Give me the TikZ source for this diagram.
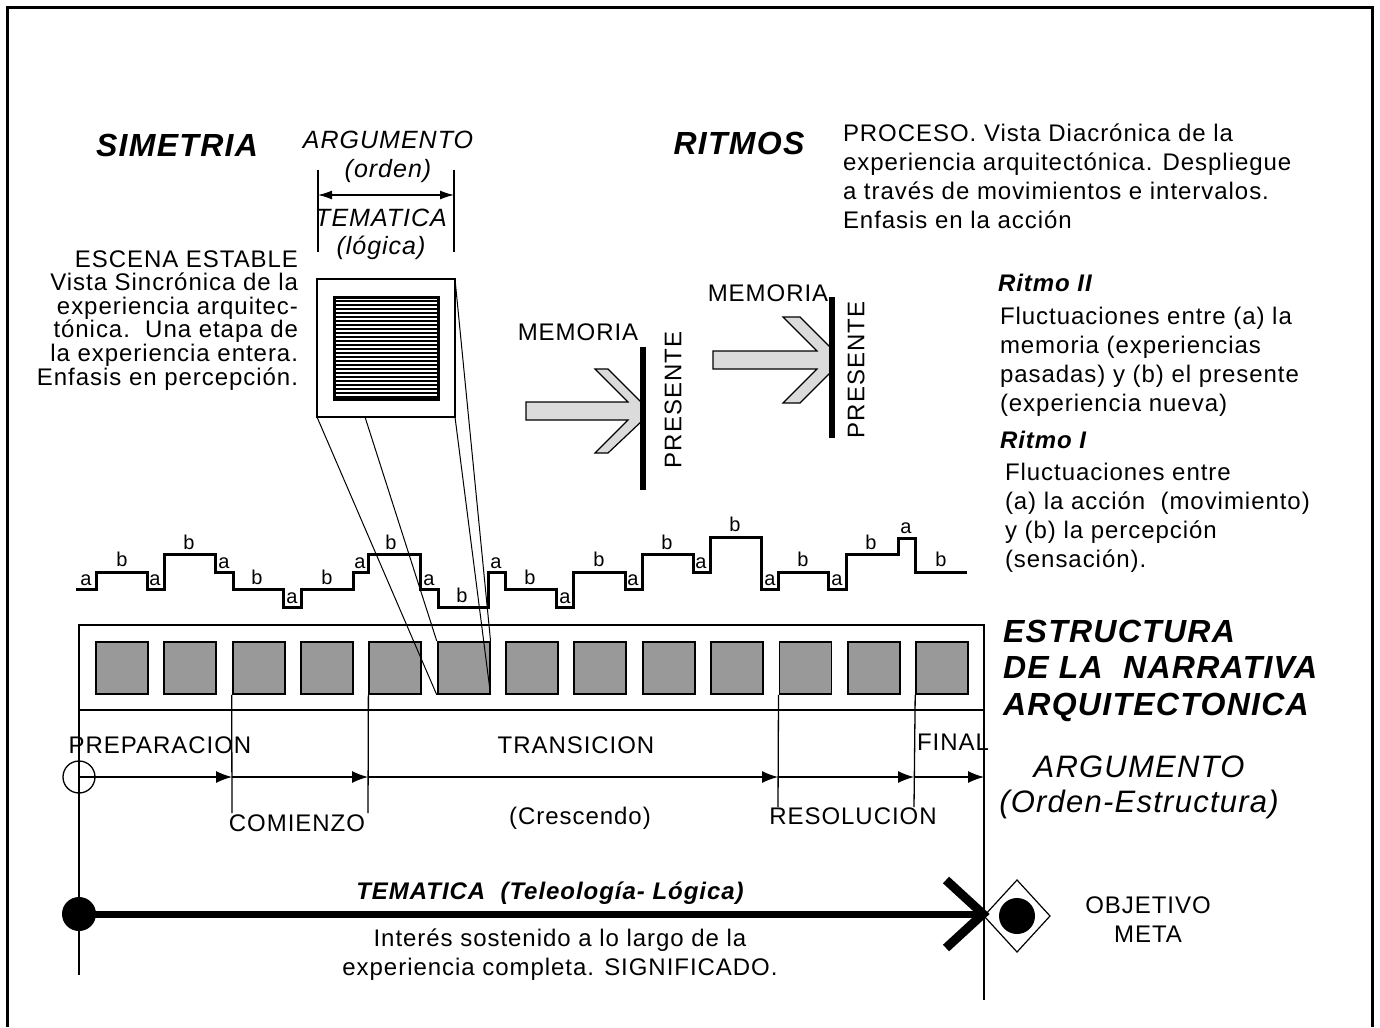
\documentclass[tikz,border=0pt]{standalone}
\usepackage{fontspec}
\setmainfont{Liberation Sans}[LetterSpace=4]
\usetikzlibrary{arrows.meta}
\newcommand\dgbody{\fontsize{24}{29}\selectfont}
\newcommand\dgleft{\fontsize{24}{23.6}\selectfont}
\newcommand\dgtitle{\fontsize{32}{36.5}\selectfont\bfseries\itshape}
\newcommand\dgsub{\fontsize{24}{29}\selectfont\bfseries\itshape}
\newcommand\dgit{\fontsize{25}{28.5}\selectfont\itshape}
\newcommand\dgitbig{\fontsize{31}{35}\selectfont\itshape}
\newcommand\dglab{\fontsize{20}{20}\selectfont}
\tikzset{
  txt/.style={inner sep=0pt, outer sep=0pt},
  stair/.style={line width=3pt, line join=miter},
  thinl/.style={line width=1.3pt},
  scenebox/.style={draw, line width=1.8pt, fill=black!40, inner sep=0pt, minimum width=52pt, minimum height=52pt, anchor=north west},
  memarrow/.style={draw, line width=1.2pt, fill=black!14, line join=miter},
  presbar/.style={line width=6pt},
  tickarrow/.style={-{Latex[length=16pt,width=12pt]}, line width=1.3pt},
  dimarrow/.style={{Latex[length=14pt,width=9pt]}-{Latex[length=14pt,width=9pt]}, line width=1.3pt},
  lab/.style={txt, font=\dglab},
}
\begin{document}
\begin{tikzpicture}[x=1pt,y=-1pt]
\useasboundingbox (0,0) rectangle (1380,1027);
\fill[white] (0,0) rectangle (1380,1027);
% frame
\draw[line width=3pt] (7,1027) -- (7,8) -- (1372,8) -- (1372,1027);

% titles
\node[txt, font=\dgtitle] (simetria) at (177,145) {SIMETRIA};
\node[txt, font=\dgtitle] (ritmos) at (739,143) {RITMOS};

% dimension (argumento / tematica)
\node[txt, font=\dgit, align=center, anchor=base] (argu) at (388,177.5) {ARGUMENTO\\(orden)};
\node[txt, font=\dgit, align=center, anchor=base] (tema) at (381,254.5) {TEMATICA\\(lógica)};
\coordinate (dl1) at (318,170); \coordinate (dl2) at (318,252);
\coordinate (dr1) at (454,170); \coordinate (dr2) at (454,252);
\coordinate (da) at (318,195); \coordinate (db) at (454,195);
\draw[thinl] (dl1) -- (dl2);
\draw[thinl] (dr1) -- (dr2);
\draw[dimarrow] (da) -- (db);

% left text
\node[txt, font=\dgleft, align=right, anchor=base east] (escena) at (298,385)
 {ESCENA ESTABLE\\Vista Sincrónica de la\\experiencia arquitec-\\tónica.\ \ Una etapa de\\la experiencia entera.\\Enfasis en percepción.};

% detail square
\coordinate (sqTL) at (317,279); \coordinate (sqTR) at (455,279);
\coordinate (sqBL) at (317,417); \coordinate (sqBR) at (455,417);
\coordinate (sqBM) at (365,417);
\draw[thinl] (sqTL) rectangle (sqBR);
\foreach \yy in {301,305,...,397} \draw[line width=1.6pt] (334,\yy) -- (438,\yy);
\draw[line width=3pt] (334,297) rectangle (438,399);

% right text
\node[txt, font=\dgbody, align=left, anchor=base west] (proceso) at (843,228)
 {PROCESO. Vista Diacrónica de la\\experiencia arquitectónica. Despliegue\\a través de movimientos e intervalos.\\Enfasis en la acción};
\node[txt, font=\dgsub, anchor=base west] (r2) at (998,291) {Ritmo II};
\node[txt, font=\dgbody, align=left, anchor=base west] (r2t) at (1000,411)
 {Fluctuaciones entre (a) la\\memoria (experiencias\\pasadas) y (b) el presente\\(experiencia nueva)};
\node[txt, font=\dgsub, anchor=base west] (r1) at (1000,448) {Ritmo I};
\node[txt, font=\dgbody, align=left, anchor=base west] (r1t) at (1005,567)
 {Fluctuaciones entre\\(a) la acción\ \ (movimiento)\\y (b) la percepción\\(sensación).};

% memory arrows
\draw[memarrow] (526,402) -- (628,402) -- (595,369) -- (608,369) -- (643,404) -- (643,420) -- (608,453) -- (595,453) -- (628,420) -- (526,420) -- cycle;
\coordinate (p1a) at (643,347); \coordinate (p1b) at (643,490);
\draw[presbar] (p1a) -- (p1b);
\node[txt, font=\dgbody] (mem1) at (578,332) {MEMORIA};
\node[txt, font=\dgbody, rotate=90] (pres1) at (673,400) {PRESENTE};

\draw[memarrow] (713,351) -- (817,351) -- (783,317) -- (800,317) -- (832,349) -- (832,371) -- (800,403) -- (783,403) -- (817,369) -- (713,369) -- cycle;
\coordinate (p2a) at (832,297); \coordinate (p2b) at (832,438);
\draw[presbar] (p2a) -- (p2b);
\node[txt, font=\dgbody] (mem2) at (768,293) {MEMORIA};
\node[txt, font=\dgbody, rotate=90] (pres2) at (856,370) {PRESENTE};

% stair line
\draw[stair] (76,589) -- (96,589) -- (96,572) -- (147,572) -- (147,589) -- (164,589) -- (164,554) -- (215,554) -- (215,572) -- (233,572) -- (233,589) -- (283,589) -- (283,607) -- (301,607) -- (301,589) -- (353,589) -- (353,572) -- (368,572) -- (368,554) -- (420,554) -- (420,589) -- (438,589) -- (438,607) -- (488,607) -- (488,572) -- (505,572) -- (505,589) -- (556,589) -- (556,607) -- (573,607) -- (573,572) -- (625,572) -- (625,589) -- (642,589) -- (642,554) -- (693,554) -- (693,572) -- (710,572) -- (710,537) -- (761,537) -- (761,589) -- (778,589) -- (778,572) -- (828,572) -- (828,589) -- (846,589) -- (846,554) -- (898,554) -- (898,538) -- (915,538) -- (915,572) -- (967,572);
\foreach \xx/\yy/\tt [count=\k] in {86/580/a,122/559/b,155/580/a,189/542/b,224/563/a,257/577/b,292/598/a,327/577/b,360/563/a,391/542/b,429/580/a,462/595/b,496/563/a,530/577/b,565/598/a,599/559/b,633/580/a,667/542/b,701/563/a,735/524/b,770/580/a,803/559/b,837/580/a,871/542/b,906/528/a,941/559/b}
  \node[lab] (ab\k) at (\xx,\yy) {\tt};

% structure
\coordinate (stTL) at (79,625); \coordinate (stTR) at (984,625);
\coordinate (stML) at (79,710); \coordinate (stMR) at (984,710);
\coordinate (stBL) at (79,975); \coordinate (stBR) at (984,1000);
\draw[thinl] (stBL) -- (stTL) -- (stTR) -- (stBR);
\draw[thinl] (stML) -- (stMR);
\foreach \i in {0,...,12} {
  \pgfmathsetmacro\bx{95+\i*68.35}
  \node[scenebox] (box\i) at (\bx,641) {};
}

% projection lines
\draw[line width=1pt] (sqBL) -- (box5.south west);
\draw[line width=1pt] (sqBM) -- (box5.north west);
\draw[line width=1pt] (sqTR) -- (box5.north east);
\draw[line width=1pt] (sqBR) -- (box5.south east);

\node[txt, font=\dgtitle, align=left, anchor=base west] (estr) at (1003,715)
 {ESTRUCTURA\\DE LA\ \ NARRATIVA\\ARQUITECTONICA};

% timeline
\coordinate (v1b) at (232,813); \coordinate (v2b) at (368,813);
\coordinate (v3b) at (778,807); \coordinate (v4b) at (914,807);
\draw[thinl] (box2.south west) -- (v1b);
\draw[thinl] (box4.south west) -- (v2b);
\draw[thinl] (box10.south west) -- (v3b);
\draw[thinl] (box12.south west) -- (v4b);
\node[draw, circle, thinl, minimum size=32pt, inner sep=0pt] (start) at (79,777) {};
\coordinate (t1) at (232,777); \coordinate (t2) at (368,777);
\coordinate (t3) at (778,777); \coordinate (t4) at (914,777);
\coordinate (t5) at (984,777);
\draw[tickarrow] (start.center) -- (t1);
\draw[tickarrow] (t1) -- (t2);
\draw[tickarrow] (t2) -- (t3);
\draw[tickarrow] (t3) -- (t4);
\draw[tickarrow] (t4) -- (t5);

\node[txt, font=\dgbody] (prep) at (160,745) {PREPARACION};
\node[txt, font=\dgbody] (trans) at (576,745) {TRANSICION};
\node[txt, font=\dgbody] (final) at (953,742) {FINAL};
\node[txt, font=\dgbody] (comien) at (297,823) {COMIENZO};
\node[txt, font=\dgbody] (cresc) at (580,818) {(Crescendo)};
\node[txt, font=\dgbody] (resol) at (853,816) {RESOLUCION};
\node[txt, font=\dgitbig, align=center, anchor=base] (argu2) at (1139,812) {ARGUMENTO\\(Orden-Estructura)};

% tematica arrow
\node[circle, fill=black, minimum size=34pt, inner sep=0pt] (dotA) at (79,914) {};
\coordinate (tip) at (983,914);
\coordinate (armT) at (946,880); \coordinate (armB) at (946,948);
\draw[line width=7pt] (dotA.center) -- (tip);
\draw[line width=9pt, line join=miter] (armT) -- (tip) -- (armB);
\coordinate (goal) at (1017,916);
\draw[line width=1.2pt] (984,916) -- (1017,880) -- (1050,916) -- (1017,952) -- cycle;
\node[circle, fill=black, minimum size=36pt, inner sep=0pt] (goaldot) at (goal) {};
\node[txt, font=\dgbody, align=center, anchor=base] (obj) at (1148,942) {OBJETIVO\\META};

\node[txt, font=\dgsub] (temat) at (550,893) {TEMATICA\ \ (Teleología- Lógica)};
\node[txt, font=\dgbody, align=center, anchor=base] (inter) at (560,975)
 {Interés sostenido a lo largo de la\\experiencia completa. SIGNIFICADO.};
\end{tikzpicture}
\end{document}
